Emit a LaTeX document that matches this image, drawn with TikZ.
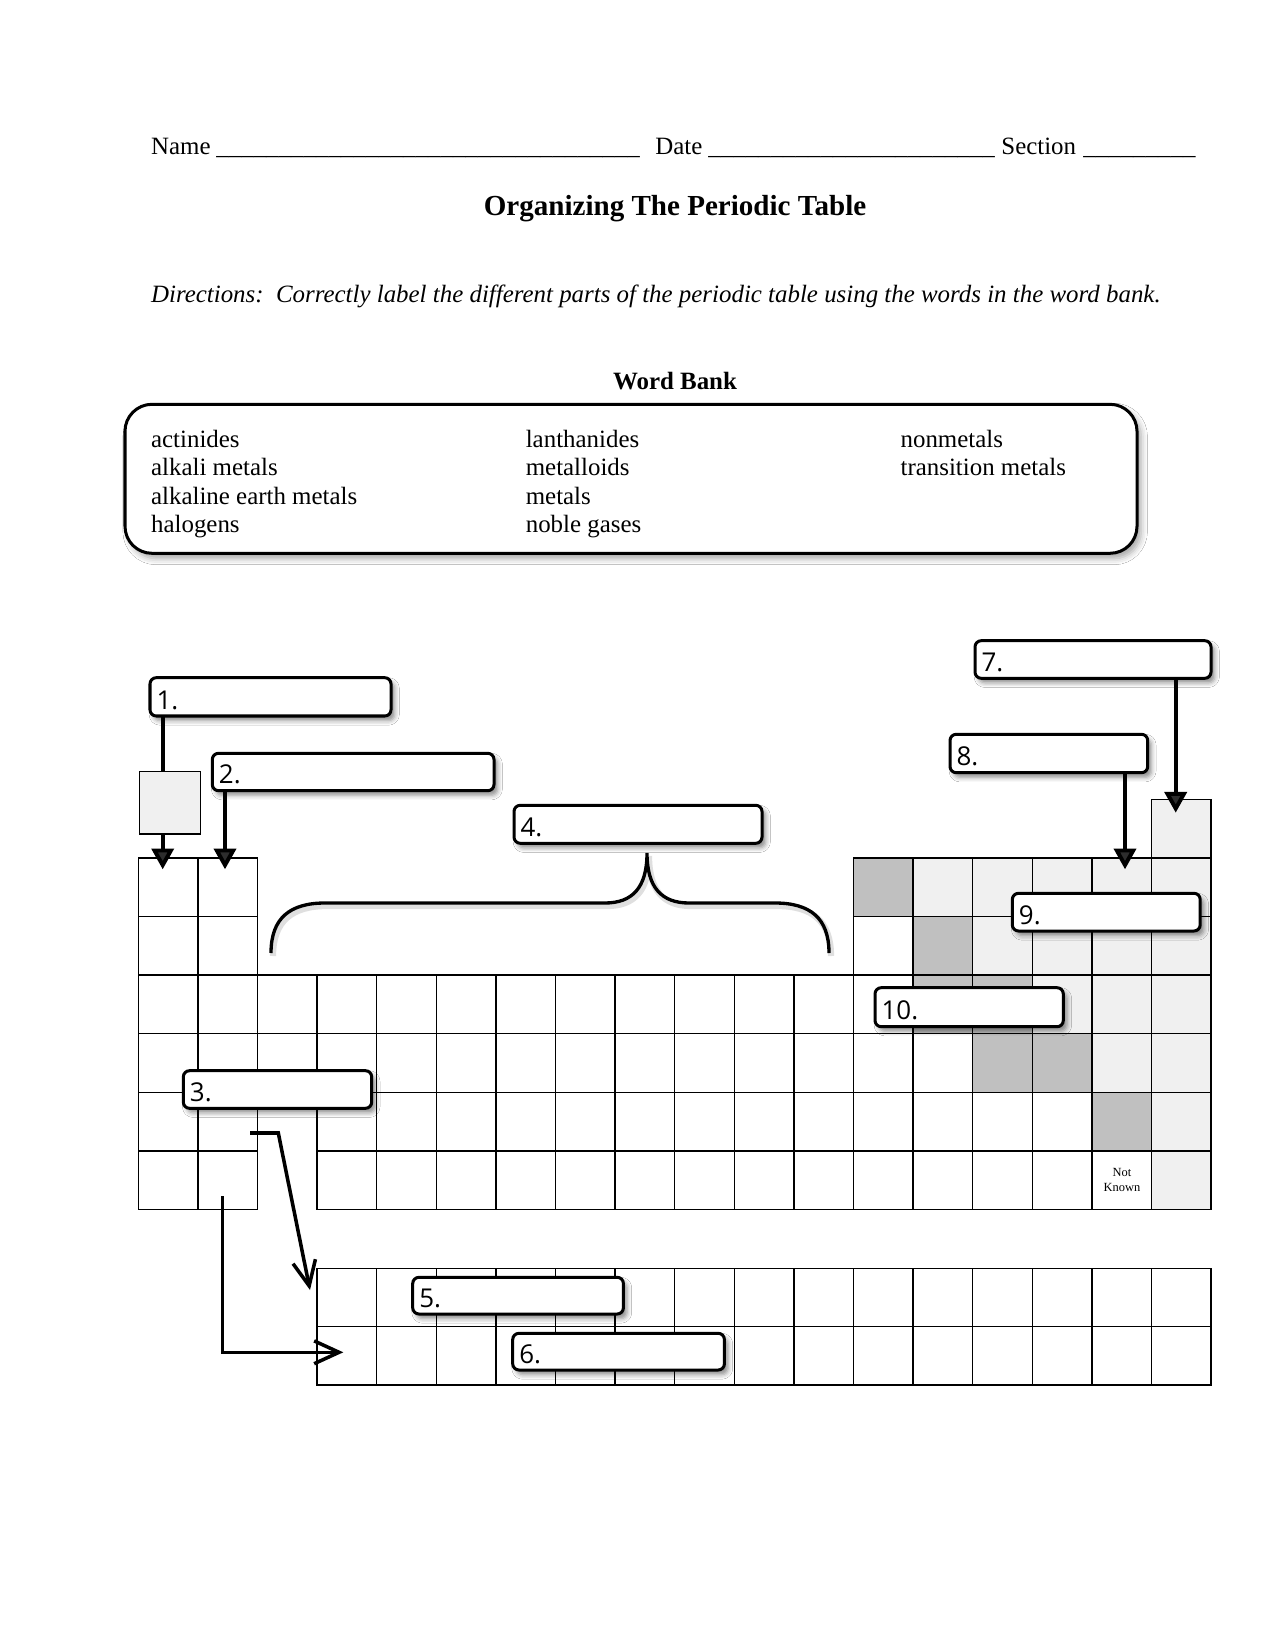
\documentclass[tikz,border=0pt]{standalone}
\usepackage{fontspec}
\setmainfont{Liberation Serif}
\newfontfamily\labfont{Open Sans}
\usetikzlibrary{arrows.meta,shadows.blur}
\definecolor{lightcell}{HTML}{F0F0F0}
\definecolor{darkcell}{HTML}{C0C0C0}
\newcommand\pcell[3]{%
  \pgfmathsetmacro\xa{138.3+(#1-1)*59.6}\pgfmathsetmacro\xb{\xa+59.6}%
  \pgfmathsetmacro\ya{799.3+(#2-1)*58.6}\pgfmathsetmacro\yb{\ya+58.6}%
  \draw[gridline, fill=#3] (\xa,\ya) rectangle (\xb,\yb);}
\newcommand\lcell[2]{%
  \pgfmathsetmacro\xa{138.3+(#1-1)*59.6}\pgfmathsetmacro\xb{\xa+59.6}%
  \pgfmathsetmacro\ya{1268.3+#2*58.35}\pgfmathsetmacro\yb{\ya+58.35}%
  \draw[gridline] (\xa,\ya) rectangle (\xb,\yb);}
\newcommand\lbox[6]{%
  \node[lbl, anchor=north west, minimum width={(#4-#2)*0.4818pt}, minimum height={(#5-#3)*0.4818pt}] (#1) at (#2,#3) {};
  \node[num] (#1t) at (#1.south west) {#6};}
\begin{document}
\begin{tikzpicture}[x=0.4818pt,y=-0.4818pt,
  gridline/.style={draw=black, line width=0.6pt},
  lbl/.style={draw=black, line width=1.45pt, rounded corners=3pt, fill=white, inner sep=0pt, outer sep=0pt,
    blur shadow={shadow xshift=1.8pt, shadow yshift=-2.2pt, shadow blur radius=2.2pt, shadow opacity=45}},
  num/.style={font=\labfont\fontsize{12.5}{14}\selectfont, anchor=base west, inner sep=0pt, xshift=3pt, yshift=3.3pt},
  bigarrow/.style={line width=1.9pt, -{Triangle[width=10.6pt,length=10pt]}},
  openarrow/.style={line width=1.7pt, -{Straight Barb[length=12pt,width=11pt]}},
  txt/.style={font=\fontsize{12}{14}\selectfont, anchor=base west, inner sep=0pt},
]
\useasboundingbox (0,0) rectangle (1275,1651);
\fill[white] (0,0) rectangle (1275,1651);

% header
\node[txt] (name) at (150.7,155) {Name};
\node[txt] (nameline) at (216,155) {\_\_\_\_\_\_\_\_\_\_\_\_\_\_\_\_\_\_\_\_\_\_\_\_\_\_\_\_\_\_\_\_\_\_};
\node[txt] (date) at (655,155) {Date};
\node[txt] (dateline) at (708,155) {\_\_\_\_\_\_\_\_\_\_\_\_\_\_\_\_\_\_\_\_\_\_\_};
\node[txt] (sect) at (1001,155) {Section};
\node[txt] (sectline) at (1083,155) {\_\_\_\_\_\_\_\_\_};
\node[anchor=base, inner sep=0pt, font=\bfseries\fontsize{14}{17}\selectfont] (title) at (675,216) {Organizing The Periodic Table};
\node[txt, font=\itshape\fontsize{12}{14}\selectfont] (dir) at (150.7,303) {Directions:\ \ Correctly label the different parts of the periodic table using the words in the word bank.};
\node[anchor=base, inner sep=0pt, font=\bfseries\fontsize{12}{14}\selectfont] (wbtitle) at (675,389.5) {Word Bank};

% word bank
\draw[line width=1.45pt, rounded corners=13pt, fill=white,
  blur shadow={shadow xshift=2pt, shadow yshift=-2.5pt, shadow blur radius=3pt, shadow opacity=35}]
  (125,404.3) rectangle (1137,553.3);
\node[txt] (w1) at (150.7,447.3) {actinides};
\node[txt] (w2) at (150.7,475.8) {alkali metals};
\node[txt] (w3) at (150.7,504.3) {alkaline earth metals};
\node[txt] (w4) at (150.7,532.8) {halogens};
\node[txt] (w5) at (525.4,447.3) {lanthanides};
\node[txt] (w6) at (525.4,475.8) {metalloids};
\node[txt] (w7) at (525.4,504.3) {metals};
\node[txt] (w8) at (525.4,532.8) {noble gases};
\node[txt] (w9) at (900.2,447.3) {nonmetals};
\node[txt] (w10) at (900.2,475.8) {transition metals};

% main grid
\foreach \c in {1,2} {\foreach \r in {2,...,7} {\pcell{\c}{\r}{white}}}
\foreach \r in {4,5} {\pcell{3}{\r}{white}}
\foreach \c in {4,...,12} {\foreach \r in {4,...,7} {\pcell{\c}{\r}{white}}}
\foreach \c in {13,...,17} {\foreach \r in {2,...,7} {\pcell{\c}{\r}{white}}}
\foreach \r in {1,...,7} {\pcell{18}{\r}{lightcell}}
\foreach \c/\r in {14/2,15/2,16/2,17/2,15/3,16/3,17/3,16/4,17/4,17/5} {\pcell{\c}{\r}{lightcell}}
\foreach \c/\r in {13/2,14/3,14/4,15/4,15/5,16/5,17/6} {\pcell{\c}{\r}{darkcell}}
\node[inner sep=0pt, align=center, font=\fontsize{6}{6.8}\selectfont] (nk) at (1122,1180) {Not\\Known};

% lower table
\foreach \c in {4,...,18} {\foreach \r in {0,1} {\lcell{\c}{\r}}}

% brace
\draw[line width=3pt, gray, opacity=0.25, shift={(2,3)}]
  (271,953) .. controls (271,918) and (290,903) .. (325,903) -- (605,903)
  .. controls (632,903) and (647,888) .. (647,853)
  .. controls (647,888) and (662,903) .. (689,903) -- (775,903)
  .. controls (810,903) and (829,918) .. (829,953);
\draw[line width=1.6pt]
  (271,953) .. controls (271,918) and (290,903) .. (325,903) -- (605,903)
  .. controls (632,903) and (647,888) .. (647,853)
  .. controls (647,888) and (662,903) .. (689,903) -- (775,903)
  .. controls (810,903) and (829,918) .. (829,953);

% label boxes
\lbox{b1}{150}{677.7}{391}{716}{1.}
\lbox{b2}{212.3}{753.3}{494}{790.7}{2.}
\lbox{b3}{183.3}{1070.7}{371.7}{1108.3}{3.}
\lbox{b4}{514}{805.3}{762}{843.3}{4.}
\lbox{b5}{412.7}{1277.3}{623.4}{1314}{5.}
\lbox{b6}{512.7}{1333.3}{724.4}{1370}{6.}
\lbox{b7}{975}{640.7}{1211}{678.3}{7.}
\lbox{b8}{950}{734.3}{1147.7}{772.7}{8.}
\lbox{b9}{1012.3}{893.3}{1200.2}{931}{9.}
\lbox{b10}{875}{987.7}{1063.3}{1026.7}{10.}

% arrows
\coordinate (t1) at (162.7,869.3);
\coordinate (t2) at (225,869.3);
\coordinate (t7) at (1175.7,812.7);
\coordinate (t8) at (1125,869.3);
\draw[bigarrow] (b1.south -| t1) -- (t1);
\draw[bigarrow] (b2.south -| t2) -- (t2);
\draw[bigarrow] (b7.south -| t7) -- (t7);
\draw[bigarrow] (b8.south -| t8) -- (t8);

% hydrogen box over arrow 1
\draw[gridline, fill=lightcell] (139.3,771.3) rectangle (200.3,834);

\coordinate (a3s) at (250,1133);
\coordinate (a3m) at (278.3,1133);
\coordinate (a3t) at (310,1290);
\draw[openarrow] (a3s) -- (a3m) -- (a3t);
\coordinate (a6s) at (222.7,1196);
\coordinate (a6m) at (222.7,1352.3);
\coordinate (a6t) at (343.3,1352.3);
\draw[openarrow] (a6s) -- (a6m) -- (a6t);
\end{tikzpicture}
\end{document}
